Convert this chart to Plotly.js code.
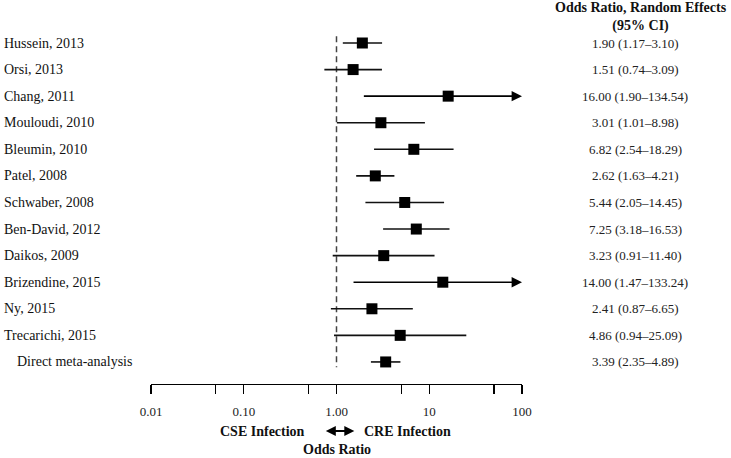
<!DOCTYPE html>
<html>
<head>
<meta charset="utf-8">
<script src="https://cdn.plot.ly/plotly-3.0.1.min.js"></script>
<style>html,body{margin:0;padding:0;background:#fff;}#chart{width:731px;height:458px;}</style>
</head>
<body>
<div id="chart"></div>
<script>
const studies = ['Hussein, 2013','Orsi, 2013','Chang, 2011','Mouloudi, 2010','Bleumin, 2010','Patel, 2008','Schwaber, 2008','Ben-David, 2012','Daikos, 2009','Brizendine, 2015','Ny, 2015','Trecarichi, 2015','Direct meta-analysis'];
const oddsRatio = [1.90,1.51,16.00,3.01,6.82,2.62,5.44,7.25,3.23,14.00,2.41,4.86,3.39];
const ciLow = [1.17,0.74,1.90,1.01,2.54,1.63,2.05,3.18,0.91,1.47,0.87,0.94,2.35];
const ciHigh = [3.10,3.09,134.54,8.98,18.29,4.21,14.45,16.53,11.40,133.24,6.65,25.09,4.89];
const tickVals = [0.01,0.05,0.1,0.5,1,5,10,50,100];
const tickText = ['0.01','','0.10','','1.00','','10','','100'];

const XMIN = 0.01, XMAX = 100;
const SERIF = 'Liberation Serif';
const fmt = v => v.toFixed(2);
const rows = studies.map((_, i) => i);

const lx = [], ly = [];
rows.forEach(i => {
  if (ciHigh[i] <= XMAX) { lx.push(ciLow[i], ciHigh[i], null); ly.push(i, i, null); }
});

const traces = [
  {x:[1,1], y:[-0.25, rows.length - 0.8], mode:'lines', line:{color:'#444', width:1.5, dash:'6px,4px'}, hoverinfo:'skip', showlegend:false},
  {x:lx, y:ly, mode:'lines', line:{color:'#111', width:1.6}, hoverinfo:'skip', showlegend:false, connectgaps:false},
  {x:oddsRatio, y:rows, mode:'markers', marker:{symbol:'square', size:11, color:'#000'}, showlegend:false, cliponaxis:false}
];

const annotations = [];
rows.forEach(i => {
  annotations.push({xref:'paper', yref:'y', x:-0.402 + (i === rows.length - 1 ? 0.035 : 0), y:i, xanchor:'left', yanchor:'middle', text:studies[i], showarrow:false, font:{family:SERIF, size:14, color:'#111'}});
  annotations.push({xref:'paper', yref:'y', x:1.3056, y:i, xanchor:'center', yanchor:'middle', text:fmt(oddsRatio[i]) + ' (' + fmt(ciLow[i]) + '–' + fmt(ciHigh[i]) + ')', showarrow:false, font:{family:SERIF, size:13, color:'#222'}});
  if (ciHigh[i] > XMAX) {
    annotations.push({xref:'x', yref:'y', axref:'x', ayref:'y', x:Math.log10(XMAX), y:i, ax:Math.log10(ciLow[i]), ay:i, text:'', showarrow:true, arrowhead:2, arrowsize:1.3, arrowwidth:1.6, arrowcolor:'#000', standoff:0, startstandoff:0});
  }
});
annotations.push({xref:'paper', yref:'paper', x:1.3218, y:1.036, xanchor:'center', yanchor:'middle', text:'<b>Odds Ratio, Random Effects</b><br><b>(95% CI)</b>', showarrow:false, font:{family:SERIF, size:14, color:'#111'}});
annotations.push({xref:'paper', yref:'paper', x:0.421, y:-0.1328, xanchor:'right', yanchor:'middle', text:'<b>CSE Infection</b>', showarrow:false, font:{family:SERIF, size:14, color:'#111'}});
annotations.push({xref:'paper', yref:'paper', x:0.569, y:-0.1328, xanchor:'left', yanchor:'middle', text:'<b>CRE Infection</b>', showarrow:false, font:{family:SERIF, size:14, color:'#111'}});
annotations.push({xref:'paper', yref:'paper', x:0.5, y:-0.186, xanchor:'center', yanchor:'middle', text:'<b>Odds Ratio</b>', showarrow:false, font:{family:SERIF, size:14, color:'#111'}});
annotations.push({xref:'paper', yref:'paper', x:0.548, y:-0.1328, ax:-30, ay:0, text:'', showarrow:true, arrowhead:2, startarrowhead:2, arrowside:'end+start', arrowsize:1, arrowwidth:2, arrowcolor:'#000'});

const layout = {
  width:731, height:458,
  margin:{l:151, r:209.3, t:30, b:74},
  paper_bgcolor:'#fff', plot_bgcolor:'#fff',
  font:{family:SERIF},
  xaxis:{type:'log', range:[Math.log10(XMIN), Math.log10(XMAX)], tickvals:tickVals, ticktext:tickText, ticks:'outside', ticklen:9, tickwidth:1.3, tickcolor:'#000', showline:true, linecolor:'#000', linewidth:1.3, showgrid:false, zeroline:false, tickfont:{family:SERIF, size:13, color:'#222'}, ticklabelstandoff:6, fixedrange:true},
  yaxis:{visible:false, range:[12.83, -0.489], fixedrange:true},
  annotations:annotations,
  showlegend:false
};
Plotly.newPlot('chart', traces, layout, {displayModeBar:false, staticPlot:true});
</script>
</body>
</html>
